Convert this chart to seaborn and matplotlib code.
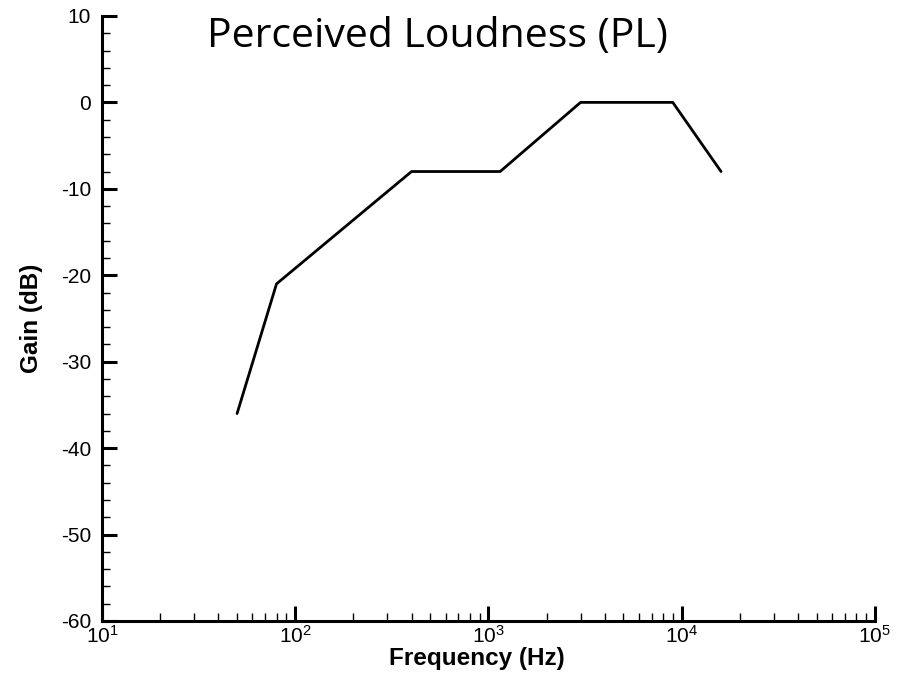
import numpy as np
import pandas as pd
import matplotlib
matplotlib.use("Agg")
import matplotlib.pyplot as plt
import seaborn as sns
from matplotlib.ticker import LogLocator, MultipleLocator

freq_hz = [50, 80, 400, 1150, 3000, 9000, 16000]
gain_db = [-36, -21, -8, -8, 0, 0, -8]
title = "Perceived Loudness (PL)"

sns.set_theme(style="ticks")
plt.rcParams['font.family'] = ['Liberation Sans', 'DejaVu Sans']
plt.rcParams['axes.unicode_minus'] = False
plt.rcParams['mathtext.fontset'] = 'custom'
plt.rcParams['mathtext.rm'] = 'Liberation Sans'
plt.rcParams['mathtext.it'] = 'Liberation Sans:italic'
plt.rcParams['mathtext.bf'] = 'Liberation Sans:bold'

df = pd.DataFrame({"Frequency": freq_hz, "Gain": gain_db})

fig = plt.figure(figsize=(9.07, 6.76), dpi=100)
ax = fig.add_axes([0.1125, 0.0814, 0.852, 0.895])
sns.lineplot(data=df, x="Frequency", y="Gain", ax=ax, color="black", linewidth=2.0, sort=False)
ax.set_xscale("log")
ax.set_xlim(10, 1e5)
ax.set_ylim(-60, 10)
ax.yaxis.set_major_locator(MultipleLocator(10))
ax.yaxis.set_minor_locator(MultipleLocator(2))
ax.xaxis.set_major_locator(LogLocator(base=10, numticks=10))
ax.xaxis.set_minor_locator(LogLocator(base=10, subs=np.arange(2, 10), numticks=20))

for s in ["top", "right"]:
    ax.spines[s].set_visible(False)
for s in ["left", "bottom"]:
    ax.spines[s].set_linewidth(2.2)
    ax.spines[s].set_color("black")

ax.tick_params(axis="both", which="major", direction="in", length=11, width=2.2,
               labelsize=15, colors="black")
ax.tick_params(axis="both", which="minor", direction="in", length=6, width=1.0, colors="black")
ax.tick_params(axis="x", which="major", pad=3)
ax.tick_params(axis="y", which="major", pad=8)

ax.set_xlabel("Frequency (Hz)", fontsize=17.5, fontweight="bold", color="black")
ax.set_ylabel("Gain (dB)", fontsize=17.5, fontweight="bold", color="black")
ax.xaxis.set_label_coords(0.485, -0.043)
ax.yaxis.set_label_coords(-0.077, 0.5)

fig.text(0.228, 0.9305, title, fontsize=29.5, family=["Open Sans", "DejaVu Sans"],
         ha="left", va="baseline", color="black")

fig.savefig("out.png", dpi=100, facecolor="white")
